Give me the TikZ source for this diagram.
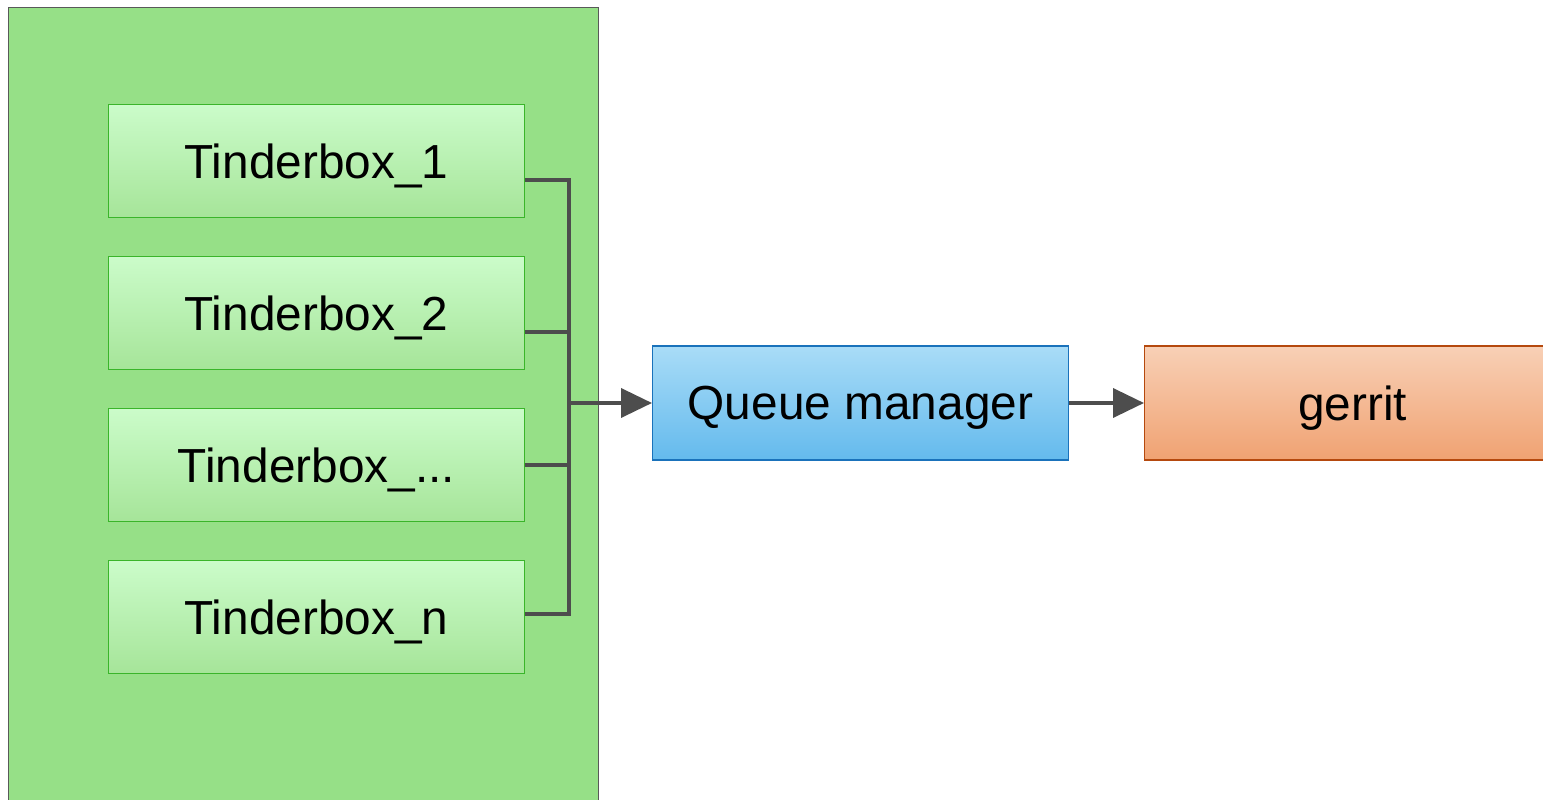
\documentclass[tikz,border=0pt]{standalone}
\usepackage{fontspec}
\setmainfont{Liberation Sans}
\usetikzlibrary{positioning,arrows.meta}

\definecolor{poolgreen}{HTML}{96E087}
\definecolor{boxline}{HTML}{3AB52A}
\definecolor{linkgray}{HTML}{4D4D4D}

\begin{document}
\begin{tikzpicture}[x=0.02cm, y=-0.02cm,
      every node/.style = {shape=rectangle, align=center, inner sep=0pt,
        text depth=0pt, font=\fontsize{27.2}{32}\selectfont},
      pool/.style = {draw=black!65, line width=0.6pt, fill=poolgreen},
      tbox/.style = {draw=boxline, line width=0.6pt,
        minimum width=8.32cm, minimum height=2.26cm,
        top color=green!18!white!90!poolgreen, bottom color=poolgreen!85!white},
      qbox/.style = {draw={rgb,255:red,26;green,114;blue,187}, line width=0.6pt,
        minimum width=8.32cm, minimum height=2.28cm,
        top color={rgb,255:red,169;green,220;blue,247},
        bottom color={rgb,255:red,100;green,186;blue,237}},
      gbox/.style = {draw={rgb,255:red,181;green,73;blue,14}, line width=0.6pt,
        minimum width=8.32cm, minimum height=2.28cm,
        top color={rgb,255:red,248;green,208;blue,182},
        bottom color={rgb,255:red,240;green,162;blue,114}},
      link/.style = {draw=linkgray, line width=2.1pt},
      arr/.style = {link, -{Triangle[length=0.62cm, width=0.58cm]}}]
  \useasboundingbox (0,0) rectangle (1543,800);
  \fill[white] (0,0) rectangle (1543,800);

  \node (pool) [pool, anchor=north west, minimum width=11.8cm,
    minimum height=16.3cm] at (8,7) {};

  \node (t1) [tbox, anchor=north west] at (108,104) {Tinderbox\_1};
  \node (t2) [tbox, below=0.76cm of t1] {Tinderbox\_2};
  \node (t3) [tbox, below=0.76cm of t2] {Tinderbox\_...};
  \node (tn) [tbox, below=0.76cm of t3] {Tinderbox\_n};

  \coordinate (bus) at (569,403);
  \node (qm) [qbox, anchor=west] at (652,403) {Queue manager};
  \node (gerrit) [gbox, anchor=west] at (1144,403) {gerrit};

  \draw[link] ([yshift=-0.38cm]t1.east) -- ([yshift=-0.38cm]t1.east -| bus)
    -- ([yshift=0.06cm]tn.east -| bus) -- ([yshift=0.06cm]tn.east);
  \draw[link] ([yshift=-0.38cm]t2.east) -- ([yshift=-0.38cm]t2.east -| bus);
  \draw[link] (t3.east) -- (t3.east -| bus);
  \draw[arr] (bus) -- (qm.west);
  \draw[arr] (qm.east) -- (gerrit.west);
\end{tikzpicture}
\end{document}
